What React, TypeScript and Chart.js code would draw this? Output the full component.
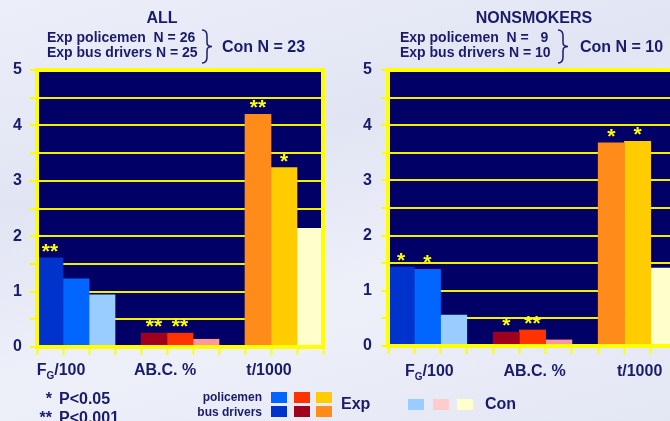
import React, { useEffect, useRef } from "react";
import { Chart, registerables } from "chart.js";

Chart.register(...registerables);

const FONT = "'Liberation Sans', Arial, Helvetica, sans-serif";
const NAVY = "#1b1b6b";
const PLOT_BG = "#000066";
const YELLOW = "#FFFF00";
const GRID = "#F2F200";

// ---- data ----
const categories = ["F_G/100", "AB.C. %", "t/1000"];
const seriesNames = ["bus drivers", "policemen", "control"];

const allBusDrivers = [1.61, 0.25, 4.2];
const allPolicemen = [1.23, 0.25, 3.24];
const allControl = [0.94, 0.14, 2.14];
const allBusSig = ["**", "**", "**"];
const allPoliceSig = ["", "**", "*"];
const allControlSig = ["", "", ""];

const nsBusDrivers = [1.43, 0.25, 3.68];
const nsPolicemen = [1.39, 0.29, 3.71];
const nsControl = [0.56, 0.11, 1.41];
const nsBusSig = ["*", "*", "*"];
const nsPoliceSig = ["*", "**", "*"];
const nsControlSig = ["", "", ""];

const yMin = 0;
const yMax = 5;
const yStep = 0.5;

const busColors = ["#0033CC", "#A0001E", "#FF8C1A"];
const policeColors = ["#0066FF", "#FF3300", "#FFCC00"];
const controlColors = ["#99CCFF", "#FF9999", "#FFFFCC"];
const legendControlColors = ["#99CCFF", "#FFCCCC", "#FFFFCC"];

const GROUP = 3;
const STRIDE = GROUP + 1;

type PanelSpec = {
  values: number[][];
  sigs: string[][];
  width: number;
  height: number;
  axisWidth: number;
  padRight: number;
  top: number;
  bottom: number;
  labelPad: number;
  labelShift: number;
  labelBaseline: number;
};

function splitSub(text: string) {
  const parts: { t: string; sub: boolean }[] = [];
  let i = 0;
  let cur = "";
  while (i < text.length) {
    if (text[i] === "_" && i + 1 < text.length) {
      if (cur) parts.push({ t: cur, sub: false });
      cur = "";
      parts.push({ t: text[i + 1], sub: true });
      i += 2;
    } else {
      cur += text[i];
      i++;
    }
  }
  if (cur) parts.push({ t: cur, sub: false });
  return parts;
}

function makeChart(canvas: HTMLCanvasElement, p: PanelSpec) {
  const slots = categories.length * STRIDE - 1;
  const labels = Array.from({ length: slots }, (_, s) =>
    s % STRIDE === 1 ? categories[Math.floor(s / STRIDE)].replace("_", "") : ""
  );
  const colorSets = [busColors, policeColors, controlColors];
  const datasets = seriesNames.map((name, k) => ({
    label: name,
    data: labels.map((_, s) => (s % STRIDE === k ? p.values[k][Math.floor(s / STRIDE)] : null)),
    backgroundColor: labels.map((_, s) => colorSets[k][Math.floor(s / STRIDE)]),
    borderWidth: 0,
    categoryPercentage: 1,
    barPercentage: 1,
    skipNull: true,
  }));

  const bgPlugin = {
    id: "plotBg",
    beforeDraw(chart: any) {
      const { ctx, chartArea: a } = chart;
      ctx.save();
      ctx.fillStyle = PLOT_BG;
      ctx.fillRect(a.left, a.top, a.right - a.left, a.bottom - a.top);
      ctx.restore();
    },
  };

  const framePlugin = {
    id: "frame",
    afterDatasetsDraw(chart: any) {
      const { ctx, chartArea: a } = chart;
      ctx.save();
      ctx.strokeStyle = YELLOW;
      ctx.lineWidth = 4;
      ctx.strokeRect(a.left, a.top, a.right - a.left, a.bottom - a.top);
      ctx.restore();
    },
  };

  const sigPlugin = {
    id: "sig",
    afterDatasetsDraw(chart: any) {
      const ctx = chart.ctx;
      ctx.save();
      ctx.font = `bold 21px ${FONT}`;
      ctx.fillStyle = YELLOW;
      ctx.textAlign = "center";
      ctx.textBaseline = "alphabetic";
      chart.data.datasets.forEach((ds: any, k: number) => {
        const meta = chart.getDatasetMeta(k);
        meta.data.forEach((el: any, s: number) => {
          if (ds.data[s] == null) return;
          const txt = p.sigs[k][Math.floor(s / STRIDE)];
          if (!txt) return;
          ctx.fillText(txt, el.x, el.y);
        });
      });
      ctx.restore();
    },
  };

  const xLabelPlugin = {
    id: "xLabels",
    afterDraw(chart: any) {
      const ctx = chart.ctx;
      const xs = chart.scales.x;
      ctx.save();
      ctx.fillStyle = NAVY;
      ctx.textBaseline = "alphabetic";
      ctx.textAlign = "left";
      const mainFont = `bold 16px ${FONT}`;
      const subFont = `bold 10px ${FONT}`;
      categories.forEach((c, i) => {
        const center = xs.getPixelForValue(i * STRIDE + 1) + p.labelShift;
        const parts = splitSub(c);
        let total = 0;
        const widths = parts.map((pt) => {
          ctx.font = pt.sub ? subFont : mainFont;
          const w = ctx.measureText(pt.t).width;
          total += w;
          return w;
        });
        let x = center - total / 2;
        parts.forEach((pt, j) => {
          ctx.font = pt.sub ? subFont : mainFont;
          ctx.fillText(pt.t, x, p.labelBaseline + (pt.sub ? 4 : 0));
          x += widths[j];
        });
      });
      ctx.restore();
    },
  };

  return new Chart(canvas, {
    type: "bar",
    data: { labels, datasets: datasets as any },
    options: {
      animation: false,
      responsive: false,
      events: [],
      layout: { padding: { top: p.top, right: p.padRight, left: 0, bottom: 0 } },
      plugins: { legend: { display: false }, tooltip: { enabled: false } },
      scales: {
        x: {
          type: "category",
          offset: true,
          grid: {
            display: true,
            offset: true,
            drawOnChartArea: false,
            drawTicks: true,
            tickLength: 8,
            tickColor: YELLOW,
            tickWidth: 2,
          },
          border: { display: false },
          ticks: { display: false, autoSkip: false },
          afterFit: (s: any) => {
            s.height = p.height - p.bottom;
          },
        },
        y: {
          min: yMin,
          max: yMax,
          ticks: {
            stepSize: yStep,
            autoSkip: false,
            padding: p.labelPad,
            color: NAVY,
            font: { family: FONT, size: 16, weight: "bold" },
            callback: (v: any) => (Number.isInteger(Number(v)) ? String(v) : ""),
          },
          grid: {
            color: GRID,
            lineWidth: 2,
            tickLength: 7,
            tickColor: YELLOW,
            tickWidth: 2,
          },
          border: { display: false },
          afterFit: (s: any) => {
            s.width = p.axisWidth;
          },
        },
      },
    } as any,
    plugins: [bgPlugin, framePlugin, sigPlugin, xLabelPlugin],
  });
}

function Txt(props: {
  x: number;
  y: number;
  size: number;
  children: React.ReactNode;
  align?: "left" | "center" | "right";
  w?: number;
}) {
  const { x, y, size, align = "left", w = 300 } = props;
  let left = x;
  if (align === "center") left = x - w / 2;
  if (align === "right") left = x - w;
  return (
    <div
      style={{
        position: "absolute",
        left,
        top: y - 0.49 * size,
        width: w,
        textAlign: align,
        fontSize: size,
        lineHeight: `${size}px`,
        whiteSpace: "pre",
      }}
    >
      {props.children}
    </div>
  );
}

function Brace({ x, y1, y2 }: { x: number; y1: number; y2: number }) {
  const mid = (y1 + y2) / 2;
  const xm = x + 5;
  const xe = x + 10;
  const d = `M${x},${y1} Q${xm},${y1} ${xm},${y1 + 6} L${xm},${mid - 4} Q${xm},${mid} ${xe},${mid} Q${xm},${mid} ${xm},${mid + 4} L${xm},${y2 - 6} Q${xm},${y2} ${x},${y2}`;
  return (
    <svg
      style={{ position: "absolute", left: 0, top: 0, overflow: "visible" }}
      width={1}
      height={1}
    >
      <path d={d} fill="none" stroke={NAVY} strokeWidth={1.5} />
    </svg>
  );
}

function Box({ x, y, c }: { x: number; y: number; c: string }) {
  return <div style={{ position: "absolute", left: x, top: y, width: 16, height: 11, background: c }} />;
}

export default function App() {
  const leftRef = useRef<HTMLCanvasElement>(null);
  const rightRef = useRef<HTMLCanvasElement>(null);

  useEffect(() => {
    const a = makeChart(leftRef.current!, {
      values: [allBusDrivers, allPolicemen, allControl],
      sigs: [allBusSig, allPoliceSig, allControlSig],
      width: 335,
      height: 421,
      axisWidth: 37,
      padRight: 12,
      top: 70,
      bottom: 347,
      labelPad: 8,
      labelShift: -15,
      labelBaseline: 375,
    });
    const b = makeChart(rightRef.current!, {
      values: [nsBusDrivers, nsPolicemen, nsControl],
      sigs: [nsBusSig, nsPoliceSig, nsControlSig],
      width: 360,
      height: 421,
      axisWidth: 53,
      padRight: 18,
      top: 70,
      bottom: 346,
      labelPad: 9,
      labelShift: 2,
      labelBaseline: 376,
    });
    return () => {
      a.destroy();
      b.destroy();
    };
  }, []);

  return (
    <div
      style={{
        position: "fixed",
        left: 0,
        top: 0,
        width: 670,
        height: 421,
        overflow: "hidden",
        background:
          "linear-gradient(165deg, #eceff9 0%, #e1e5f3 35%, #eef0f9 65%, #e3e7f4 100%)",
        fontFamily: FONT,
        fontWeight: "bold",
        color: NAVY,
      }}
    >
      <canvas ref={leftRef} width={335} height={421} style={{ position: "absolute", left: 0, top: 0 }} />
      <canvas ref={rightRef} width={360} height={421} style={{ position: "absolute", left: 335, top: 0 }} />

      {/* left header */}
      <Txt x={162} y={18} size={16} align="center" w={120}>ALL</Txt>
      <Txt x={47} y={37} size={14}>{"Exp policemen  N = 26"}</Txt>
      <Txt x={47} y={52} size={14}>{"Exp bus drivers N = 25"}</Txt>
      <Brace x={202} y1={30} y2={63} />
      <Txt x={222} y={47} size={16}>{"Con N = 23"}</Txt>

      {/* right header */}
      <Txt x={534} y={18} size={16} align="center" w={160}>NONSMOKERS</Txt>
      <Txt x={400} y={37} size={14}>{"Exp policemen  N =   9"}</Txt>
      <Txt x={400} y={52} size={14}>{"Exp bus drivers N = 10"}</Txt>
      <Brace x={558} y1={30} y2={63} />
      <Txt x={580} y={47} size={16}>{"Con N = 10"}</Txt>

      {/* significance key */}
      <Txt x={52} y={399} size={16} align="right" w={30}>*</Txt>
      <Txt x={59} y={399} size={16}>{"P<0.05"}</Txt>
      <Txt x={52} y={418} size={16} align="right" w={30}>**</Txt>
      <Txt x={59} y={418} size={16}>{"P<0.001"}</Txt>

      {/* legend */}
      <Txt x={262} y={397} size={12} align="right" w={100}>policemen</Txt>
      <Txt x={262} y={412} size={12} align="right" w={100}>bus drivers</Txt>
      {policeColors.map((c, i) => (
        <Box key={"p" + i} x={271 + i * 22.5} y={392} c={c} />
      ))}
      {busColors.map((c, i) => (
        <Box key={"b" + i} x={271 + i * 22.5} y={406} c={c} />
      ))}
      <Txt x={341} y={404} size={16}>Exp</Txt>
      {legendControlColors.map((c, i) => (
        <Box key={"c" + i} x={408 + i * 24.5} y={399} c={c} />
      ))}
      <Txt x={485} y={404} size={16}>Con</Txt>
    </div>
  );
}
